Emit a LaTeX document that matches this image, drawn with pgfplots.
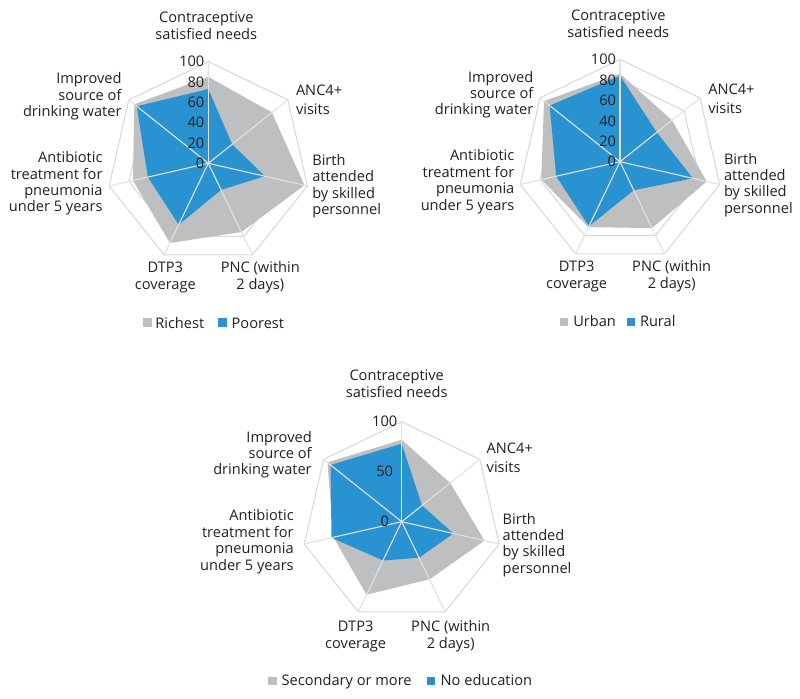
\documentclass[border=0pt]{standalone}
\usepackage{fontspec}
\setmainfont{Open Sans}
\usepackage{pgfplots}
\pgfplotsset{compat=1.18}
\usepgfplotslibrary{polar}
\definecolor{grayfill}{RGB}{190,191,193}
\definecolor{bluefill}{RGB}{41,147,209}
\definecolor{gridc}{RGB}{217,217,217}
\definecolor{spkc}{RGB}{225,225,225}
\definecolor{txt}{RGB}{35,31,32}

\newcommand\hept[1]{\addplot[gridc, line width=1.1bp] coordinates {(90,#1) (38.5714,#1) (-12.8571,#1) (-64.2857,#1) (-115.7143,#1) (-167.1429,#1) (141.4286,#1) (90,#1)};}
\newcommand\spokes{%
  \addplot[spkc, line width=1.1bp] coordinates {(90,0) (90,100)};
  \addplot[spkc, line width=1.1bp] coordinates {(38.5714,0) (38.5714,100)};
  \addplot[spkc, line width=1.1bp] coordinates {(-12.8571,0) (-12.8571,100)};
  \addplot[spkc, line width=1.1bp] coordinates {(-64.2857,0) (-64.2857,100)};
  \addplot[spkc, line width=1.1bp] coordinates {(-115.7143,0) (-115.7143,100)};
  \addplot[spkc, line width=1.1bp] coordinates {(-167.1429,0) (-167.1429,100)};
  \addplot[spkc, line width=1.1bp] coordinates {(141.4286,0) (141.4286,100)};
}
% one line of text: anchor, x, y, text
\newcommand\lbl[4]{\node[anchor=#1] at (#2,#3) {#4};}

\begin{document}
\begin{tikzpicture}[x=1bp, y=1bp,
  every node/.style={font=\fontsize{14.6bp}{16.7bp}\selectfont, text=txt, inner sep=0pt, outer sep=0pt}]
\path[use as bounding box] (0,0) rectangle (800,-699);

\pgfplotsset{radar/.style={hide axis, scale only axis, ymin=0, ymax=100, xmin=0, xmax=360, clip=false, anchor=center}}

% ---------------- Chart 1: Richest vs Poorest ----------------
\begin{polaraxis}[radar, width=203.4bp, height=203.4bp, at={(208.3bp,-163.3bp)}]
\hept{20}\hept{40}\hept{60}\hept{80}\hept{100}
% Richest
\addplot[draw=none, fill=grayfill] coordinates {(90,85) (38.5714,80) (-12.8571,97) (-64.2857,75) (-115.7143,87) (-167.1429,76) (141.4286,93) (90,85)};
% Poorest
\addplot[draw=none, fill=bluefill] coordinates {(90,73) (38.5714,30) (-12.8571,57) (-64.2857,29) (-115.7143,67) (-167.1429,61) (141.4286,90) (90,73)};
\spokes
\node[anchor=east, xshift=-4bp] at (axis cs:90,0) {0};
\node[anchor=east, xshift=-4bp] at (axis cs:90,20) {20};
\node[anchor=east, xshift=-4bp] at (axis cs:90,40) {40};
\node[anchor=east, xshift=-4bp] at (axis cs:90,60) {60};
\node[anchor=east, xshift=-4bp] at (axis cs:90,80) {80};
\node[anchor=east, xshift=-4bp] at (axis cs:90,100) {100};
\end{polaraxis}
% labels chart 1 (center 208.3,-163.3)
\lbl{base}{206.3}{-22.6}{Contraceptive}
\lbl{base}{206.3}{-39.3}{satisfied needs}
\lbl{base west}{296}{-95.3}{ANC4+}
\lbl{base west}{296}{-114.3}{visits}
\lbl{base west}{312.3}{-165.3}{Birth}
\lbl{base west}{312.3}{-181.6}{attended}
\lbl{base west}{312.3}{-198}{by skilled}
\lbl{base west}{312.3}{-214.5}{personnel}
\lbl{base}{260.3}{-272.8}{PNC (within}
\lbl{base}{260.3}{-289}{2 days)}
\lbl{base}{165.3}{-272.8}{DTP3}
\lbl{base}{165.3}{-289}{coverage}
\lbl{base east}{102.5}{-162.3}{Antibiotic}
\lbl{base east}{102.5}{-179}{treatment for}
\lbl{base east}{102.5}{-195.3}{pneumonia}
\lbl{base east}{102.5}{-211.8}{under 5 years}
\lbl{base east}{121.5}{-84}{Improved}
\lbl{base east}{121.5}{-100.3}{source of}
\lbl{base east}{121.5}{-116.3}{drinking water}
% legend chart 1
\fill[grayfill] (143.3,-318.3) rectangle (151.7,-326.7);
\lbl{base west}{155.3}{-328}{Richest}
\fill[bluefill] (218.3,-318.3) rectangle (226.7,-326.7);
\lbl{base west}{231.7}{-328}{Poorest}

% ---------------- Chart 2: Urban vs Rural ----------------
\begin{polaraxis}[radar, width=204.6bp, height=204.6bp, at={(620bp,-161.7bp)}]
\hept{20}\hept{40}\hept{60}\hept{80}\hept{100}
% Urban
\addplot[draw=none, fill=grayfill] coordinates {(90,86) (38.5714,65) (-12.8571,87) (-64.2857,72) (-115.7143,71) (-167.1429,79) (141.4286,95) (90,86)};
% Rural
\addplot[draw=none, fill=bluefill] coordinates {(90,84) (38.5714,46) (-12.8571,73) (-64.2857,31) (-115.7143,70) (-167.1429,64) (141.4286,88) (90,84)};
\spokes
\node[anchor=east, xshift=-4bp] at (axis cs:90,0) {0};
\node[anchor=east, xshift=-4bp] at (axis cs:90,20) {20};
\node[anchor=east, xshift=-4bp] at (axis cs:90,40) {40};
\node[anchor=east, xshift=-4bp] at (axis cs:90,60) {60};
\node[anchor=east, xshift=-4bp] at (axis cs:90,80) {80};
\node[anchor=east, xshift=-4bp] at (axis cs:90,100) {100};
\end{polaraxis}
% labels chart 2 (center 620,-161.7)
\lbl{base}{618.3}{-21}{Contraceptive}
\lbl{base}{618.3}{-37.7}{satisfied needs}
\lbl{base west}{708.3}{-94.4}{ANC4+}
\lbl{base west}{708.3}{-113.4}{visits}
\lbl{base west}{724}{-164}{Birth}
\lbl{base west}{724}{-180.3}{attended}
\lbl{base west}{724}{-196.7}{by skilled}
\lbl{base west}{724}{-213.2}{personnel}
\lbl{base}{671.7}{-271.8}{PNC (within}
\lbl{base}{671.7}{-288}{2 days)}
\lbl{base}{576.7}{-271.8}{DTP3}
\lbl{base}{576.7}{-288}{coverage}
\lbl{base east}{514.3}{-160.7}{Antibiotic}
\lbl{base east}{514.3}{-177.4}{treatment for}
\lbl{base east}{514.3}{-193.7}{pneumonia}
\lbl{base east}{514.3}{-210.2}{under 5 years}
\lbl{base east}{533.3}{-82.4}{Improved}
\lbl{base east}{533.3}{-98.7}{source of}
\lbl{base east}{533.3}{-114.7}{drinking water}
% legend chart 2
\fill[grayfill] (560,-317.5) rectangle (568.3,-325.8);
\lbl{base west}{573.3}{-326.7}{Urban}
\fill[bluefill] (626.7,-317.5) rectangle (635,-325.8);
\lbl{base west}{640}{-326.7}{Rural}

% ---------------- Chart 3: Secondary vs No education ----------------
\begin{polaraxis}[radar, width=200bp, height=200bp, at={(401.7bp,-521.7bp)}]
\hept{50}\hept{100}
% Secondary or more
\addplot[draw=none, fill=grayfill] coordinates {(90,82) (38.5714,62) (-12.8571,85) (-64.2857,64) (-115.7143,81) (-167.1429,70) (141.4286,95) (90,82)};
% No education
\addplot[draw=none, fill=bluefill] coordinates {(90,78) (38.5714,26) (-12.8571,53) (-64.2857,40) (-115.7143,43) (-167.1429,72) (141.4286,91) (90,78)};
\spokes
\node[anchor=center, xshift=-17bp] at (axis cs:90,0) {0};
\node[anchor=center, xshift=-17bp] at (axis cs:90,50) {50};
\node[anchor=center, xshift=-17bp] at (axis cs:90,100) {100};
\end{polaraxis}
% labels chart 3 (center 401.7,-521.7)
\lbl{base}{396.7}{-380.7}{Contraceptive}
\lbl{base}{396.7}{-397.7}{satisfied needs}
\lbl{base west}{486.7}{-453.4}{ANC4+}
\lbl{base west}{486.7}{-472.4}{visits}
\lbl{base west}{502.7}{-524}{Birth}
\lbl{base west}{502.7}{-540.3}{attended}
\lbl{base west}{502.7}{-556.7}{by skilled}
\lbl{base west}{502.7}{-573.2}{personnel}
\lbl{base}{450.7}{-631.7}{PNC (within}
\lbl{base}{450.7}{-648.4}{2 days)}
\lbl{base}{355.7}{-631.7}{DTP3}
\lbl{base}{355.7}{-648.4}{coverage}
\lbl{base east}{293.7}{-520.7}{Antibiotic}
\lbl{base east}{293.7}{-537.4}{treatment for}
\lbl{base east}{293.7}{-553.7}{pneumonia}
\lbl{base east}{293.7}{-570.2}{under 5 years}
\lbl{base east}{311.7}{-442.4}{Improved}
\lbl{base east}{311.7}{-458.7}{source of}
\lbl{base east}{311.7}{-474.7}{drinking water}
% legend chart 3
\fill[grayfill] (268.3,-676.5) rectangle (276.7,-684.8);
\lbl{base west}{281.7}{-685}{Secondary or more}
\fill[bluefill] (427,-676.5) rectangle (435.3,-684.8);
\lbl{base west}{440.7}{-685}{No education}
\end{tikzpicture}
\end{document}
